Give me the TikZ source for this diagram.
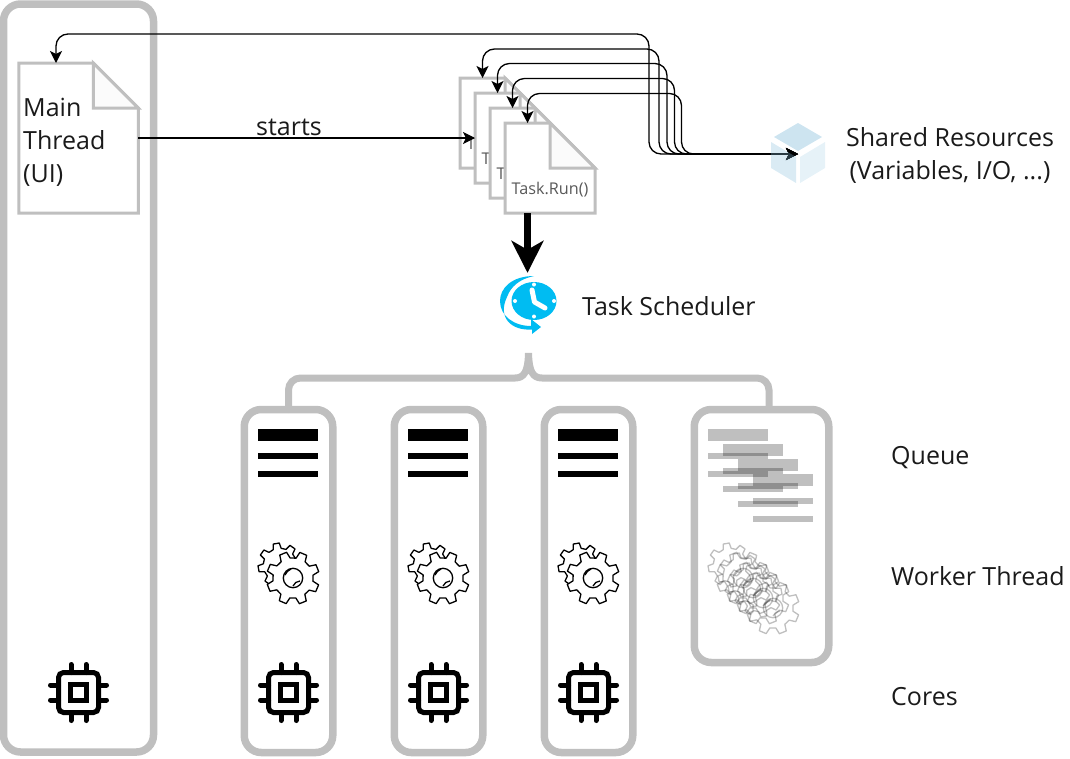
\documentclass[tikz,border=0pt]{standalone}
\usepackage{fontspec}
\setmainfont{Open Sans}
\usetikzlibrary{arrows.meta,calc}
\tikzset{>=Stealth}
\definecolor{penColor}{HTML}{BFBFBF}
\definecolor{foldColor}{HTML}{FBFBFB}
\definecolor{textColor}{HTML}{1A1A1A}
\definecolor{runColor}{HTML}{595959}
\definecolor{clockColor}{HTML}{00BCF2}
\definecolor{cubeTop}{HTML}{58A5CD}
\definecolor{cubeLeft}{HTML}{86BEDC}
\definecolor{cubeRight}{HTML}{ABD4E8}
\tikzset{
  panel/.style={draw=penColor, line width=7.5, rounded corners=17, inner sep=0, outer sep=0},
  docbox/.style={inner sep=0, outer sep=0, minimum width=#1},
  docline/.style={draw=penColor, line width=3, fill=white, line join=miter},
  foldline/.style={draw=penColor, line width=3, fill=foldColor},
  link/.style={<->, black, line width=1.3, rounded corners=12, >={Stealth[length=12,width=12,inset=3]}},
  label/.style={anchor=west, inner sep=0, text=textColor, font=\fontsize{25}{33}\selectfont},
  runlabel/.style={inner sep=0, text=runColor, font=\fontsize{16.2}{18}\selectfont},
  pics/gearwheel/.style={code={
    \draw[line width=1.3, fill=white, line join=round] (-14:#1*.76)
      \foreach \t in {0,45,...,315} {
        -- (\t-14:#1*.76) -- (\t-8:#1) -- (\t+8:#1) -- (\t+14:#1*.76)
      } -- cycle;
  }},
  pics/gearpair/.style={code={
    \pic[rotate=10] at (-8,-9) {gearwheel=22};
    \pic[rotate=22] at (5,4) {gearwheel=26.5};
    \draw[line width=1.3] (5,4) circle [radius=9.7];
    \draw[line width=1.3] (-3,1) to[bend left=20] (3,-5) (5,12) to[bend left=30] (12,7);
  }},
  pics/queuebars/.style={code={
    \fill (-30,-12) rectangle (30,0);
    \fill (-30,12) rectangle (30,18);
    \fill (-30,30) rectangle (30,36);
  }},
  pics/chip/.style={code={
    \draw[line width=5, rounded corners=5] (-20,-20) rectangle (20,20);
    \draw[line width=5] (-8,-8) rectangle (8,8);
    \foreach \p in {-7.5,7.5} {
      \draw[line width=5, line cap=round] (\p,-28) -- (\p,-20);
      \draw[line width=5, line cap=round] (\p,28) -- (\p,20);
      \draw[line width=5, line cap=round] (-28,\p) -- (-20,\p);
      \draw[line width=5, line cap=round] (28,\p) -- (20,\p);
    }
  }}
}
% a page with a folded corner, the name stays on the box
\newcommand{\docPage}[6]{
  \node[docbox=#4, minimum height=#5] (#1) at (#2,#3) {};
  \filldraw[docline] (#1.north west) -- ($(#1.north east)+(-#6,0)$) -- ($(#1.north east)+(0,#6)$)
    -- (#1.south east) -- (#1.south west) -- cycle;
  \filldraw[foldline] ($(#1.north east)+(-#6,0)$) -- ($(#1.north east)+(-#6,#6)$) -- ($(#1.north east)+(0,#6)$) -- cycle;
}
\newcommand{\taskDoc}[3]{
  \docPage{#1}{#2}{#3}{90}{90}{45}
  \node[runlabel] (#1text) at ($(#1.center)+(0,21.5)$) {Task.Run()};
}
\begin{document}
\begin{tikzpicture}[x=1pt,y=-1pt]
\useasboundingbox (0,0) rectangle (1070,758);
\node[panel, minimum width=150, minimum height=748] (ui) at (78.5,378) {};
\node[panel, minimum width=88.5, minimum height=343] (core1) at (288.5,581) {};
\node[panel, minimum width=88.5, minimum height=343] (core2) at (438.5,581) {};
\node[panel, minimum width=88.5, minimum height=343] (core3) at (588.5,581) {};
\node[panel, minimum width=134.5, minimum height=253] (pool) at (761.5,536) {};

\docPage{main}{78.5}{138}{119.5}{150}{45}
\node[label, anchor=north west, align=left] (mainlabel) at (23,98) {Main\\Thread\\(UI)};
\taskDoc{task1}{505}{123}
\taskDoc{task2}{520}{138}
\taskDoc{task3}{535}{153}
\taskDoc{task4}{550}{168}

\coordinate (mainin) at (56,63);
\coordinate (run1) at ($(task1.north west)!.25!(task1.north east)$);
\coordinate (run2) at ($(task2.north west)!.25!(task2.north east)$);
\coordinate (run3) at ($(task3.north west)!.25!(task3.north east)$);
\coordinate (run4) at ($(task4.north west)!.25!(task4.north east)$);
\coordinate (runout) at ($(task4.south west)!.25!(task4.south east)$);
\node[inner sep=0, minimum width=60, minimum height=60] (shared) at (798,154) {};
\node[inner sep=0, minimum width=60, minimum height=60] (sched) at (527.5,303) {};

\draw[link] (shared.center) -| (649,34) -| (mainin);
\draw[link] (shared.center) -| (659,49) -| (run1);
\draw[link] (shared.center) -| (667,63.5) -| (run2);
\draw[link] (shared.center) -| (674.5,78.5) -| (run3);
\draw[link] (shared.center) -| (681.5,93.5) -| (run4);
\draw[->, line width=1.3, >={Stealth[length=12,width=12,inset=3]}] (main.east) -- (task2.west);
\node[label, anchor=center] (startslabel) at (289,127) {starts};

% cube, see through so that the arrow shows
\begin{scope}[shift={(shared.center)}, opacity=.3]
\fill[cubeTop] (0,-31) -- (24,-17) -- (0,-3) -- (-24,-17) -- cycle;
\fill[cubeLeft] (-27,-12) -- (-2,3) -- (-2,29) -- (-27,14) -- cycle;
\fill[cubeRight] (27,-12) -- (2,3) -- (2,29) -- (27,14) -- cycle;
\end{scope}
\node[label, anchor=center, align=center] (sharedlabel) at (950,155) {Shared Resources\\(Variables, I/O, ...)};

\draw[-{Stealth[length=32,width=32,inset=9]}, line width=7, black] (runout) -- (sched.north);

% clock
\fill[clockColor] (534,301) ellipse [x radius=22.5, y radius=19];
\fill[clockColor] (534,276) .. controls (512,276) and (500,288) .. (500,301)
  .. controls (500,316) and (514,326) .. (531,326) -- (531,319) -- (541,327) -- (532,334) -- (532,329.5)
  .. controls (512,331) and (497,318) .. (507,297) .. controls (511,286) and (520,279) .. (534,276) -- cycle;
\draw[white, line width=5, line cap=round, line join=round] (532,290) -- (534.5,302) -- (545,308);
\foreach \dotx/\doty in {534/284.5,534/316.5,515/301,554/301} {
  \fill[white] (\dotx,\doty) circle [radius=2];
}
\node[label] (schedlabel) at (582,306) {Task Scheduler};

\draw[draw=penColor, line width=7, line cap=round] (core1.north) -- (288.5,390) arc (180:270:12) -- (515,378)
  .. controls (524,378) and (528,372) .. (528.5,353) .. controls (529,372) and (533,378) .. (542,378)
  -- (757,378) arc (270:360:12) -- (769,407);

\foreach \corex in {288,438,588} {
  \pic at (\corex,441) {queuebars};
  \pic at (\corex,574) {gearpair};
  \pic at (\corex.5,692.5) {chip};
}
\pic at (78.5,692.5) {chip};
\foreach \step in {0,1,2,3} {
  \pic[opacity=.25] at (738+15*\step,441+15*\step) {queuebars};
  \pic[draw opacity=.25, fill opacity=0] at (738+10*\step,574+10*\step) {gearpair};
}

\node[label] (queuelabel) at (891,458) {Queue};
\node[label] (workerlabel) at (891,576) {Worker Thread};
\node[label] (coreslabel) at (891,696.5) {Cores};
\end{tikzpicture}
\end{document}
